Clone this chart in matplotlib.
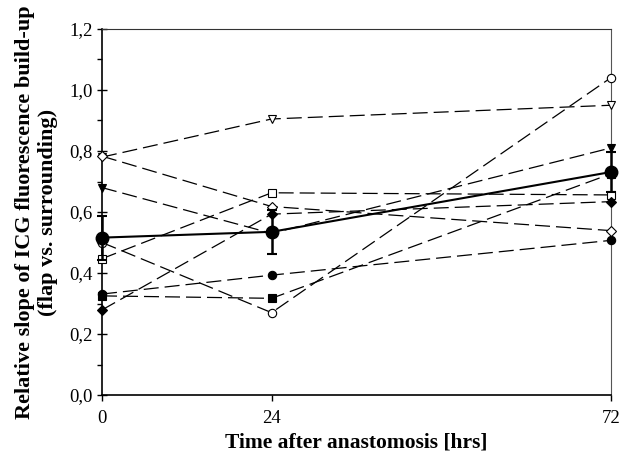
import numpy as np
import matplotlib.pyplot as plt

plt.rcParams['font.family'] = ['Liberation Serif', 'DejaVu Serif']

# time points
hours = [0, 24, 72]

# individual patients
open_circle = [0.50, 0.27, 1.04]
open_tri_down = [0.78, 0.905, 0.95]
filled_tri_down = [0.68, 0.53, 0.81]
open_square = [0.447, 0.663, 0.656]
filled_circle = [0.331, 0.393, 0.507]
filled_square = [0.325, 0.317, 0.725]
filled_diamond = [0.279, 0.593, 0.634]
open_diamond = [0.783, 0.618, 0.539]

# mean +/- error
mean_vals = [0.516, 0.535, 0.731]
mean_err = [0.072, 0.073, 0.065]

series = [
    (open_tri_down, 'v', 'white'),
    (open_circle, 'o', 'white'),
    (filled_tri_down, 'v', 'black'),
    (open_square, 's', 'white'),
    (filled_circle, 'o', 'black'),
    (filled_square, 's', 'black'),
    (open_diamond, 'D', 'white'),
    (filled_diamond, 'D', 'black'),
]

fig = plt.figure(figsize=(6.22, 4.53), dpi=100)
ax = fig.add_axes([0.164, 0.128, 0.818, 0.808])

for vals, mk, fc in series:
    ax.plot(hours, vals, color='black', lw=0.9, dashes=(12, 4.8),
            marker=mk, ms=6 if mk != 'D' else 5.5, mfc=fc, mec='black', mew=0.8,
            clip_on=False, zorder=3)

ax.errorbar(hours, mean_vals, yerr=mean_err, color='black', lw=1.5,
            marker='o', ms=9, capsize=3.8, capthick=1.5, elinewidth=1.8,
            clip_on=False, zorder=4)

ax.set_xlim(0, 72)
ax.set_ylim(0, 1.2)
ax.set_xticks(hours)
ax.set_yticks(np.arange(0, 1.21, 0.2))
ax.set_yticks(np.arange(0.1, 1.2, 0.2), minor=True)
ax.set_yticklabels([f'{v:.1f}'.replace('.', ',') for v in np.arange(0, 1.21, 0.2)])
ax.tick_params(axis='y', direction='inout', labelsize=13.5, length=7, width=1, pad=3)
ax.tick_params(axis='y', which='minor', direction='out', length=3.5, width=1)
ax.tick_params(axis='x', direction='out', labelsize=13.5, length=4, width=1, pad=7)

ax.spines['left'].set_linewidth(1.2)
ax.spines['bottom'].set_linewidth(1.2)
ax.spines['top'].set_color('#333333')
ax.spines['right'].set_color('#555555')

ax.set_xlabel('Time after anastomosis [hrs]', fontsize=15.5, fontweight='bold', labelpad=4)
ax.set_ylabel('Relative slope of ICG fluorescence build-up\n(flap vs. surrounding)',
              fontsize=16, fontweight='bold', labelpad=8, linespacing=1.2)

fig.savefig('out.png', dpi=100)
